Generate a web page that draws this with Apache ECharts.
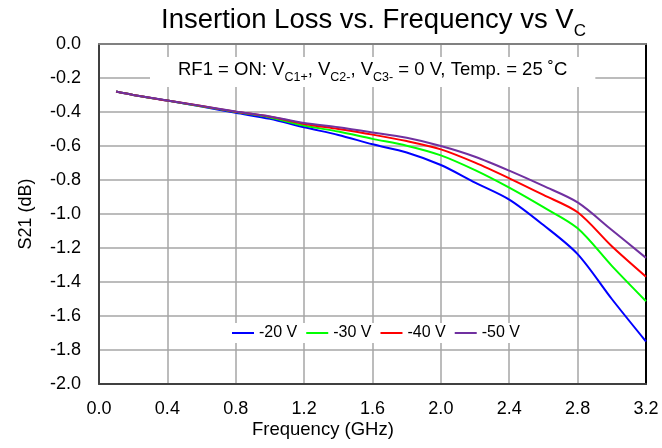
<!DOCTYPE html>
<html>
<head>
<meta charset="utf-8">
<script src="https://cdn.jsdelivr.net/npm/echarts@6/dist/echarts.min.js"></script>
<style>
html,body{margin:0;padding:0;background:#fff;}
#chart{width:662px;height:448px;}
</style>
</head>
<body>
<div id="chart"></div>
<script>
// Frequency points (GHz)
const freq = [0.1, 0.2, 0.4, 0.6, 0.8, 1.0, 1.2, 1.4, 1.6, 1.8, 2.0, 2.2, 2.4, 2.6, 2.8, 3.0, 3.2];
// S21 (dB) per control voltage
const s21_m20 = [-0.28, -0.30, -0.333, -0.368, -0.405, -0.44, -0.49, -0.535, -0.59, -0.638, -0.712, -0.815, -0.915, -1.065, -1.236, -1.50, -1.75];
const s21_m30 = [-0.28, -0.30, -0.333, -0.366, -0.400, -0.432, -0.48, -0.515, -0.558, -0.598, -0.655, -0.742, -0.845, -0.96, -1.084, -1.305, -1.513];
const s21_m40 = [-0.28, -0.30, -0.333, -0.365, -0.398, -0.428, -0.47, -0.50, -0.533, -0.571, -0.62, -0.698, -0.79, -0.888, -0.99, -1.19, -1.369];
const s21_m50 = [-0.28, -0.30, -0.332, -0.364, -0.397, -0.426, -0.465, -0.49, -0.52, -0.552, -0.60, -0.663, -0.745, -0.835, -0.932, -1.094, -1.258];
const seriesNames = ['-20 V', '-30 V', '-40 V', '-50 V'];
const seriesValues = [s21_m20, s21_m30, s21_m40, s21_m50];
const seriesColors = ['#0000FF', '#00FF00', '#FF0000', '#7030A0'];

const FONT = '"Liberation Sans", Arial, sans-serif';
const chart = echarts.init(document.getElementById('chart'));

const series = seriesNames.map((name, i) => ({
  name: name,
  type: 'line',
  data: freq.map((f, k) => [f, seriesValues[i][k]]),
  showSymbol: false,
  symbol: 'none',
  smooth: 0.3,
  lineStyle: { color: seriesColors[i], width: 2 },
  itemStyle: { color: seriesColors[i] },
  z: 3 + i,
  animation: false
}));

chart.setOption({
  animation: false,
  backgroundColor: '#fff',
  textStyle: { fontFamily: FONT },
  title: [
    {
      text: 'Insertion Loss vs. Frequency vs V{sub|C}',
      left: 161, top: 6, padding: 0,
      textStyle: {
        fontFamily: FONT, fontSize: 27.5, fontWeight: 'normal', color: '#000',
        rich: {
          sub: { fontFamily: FONT, fontSize: 17, color: '#000', verticalAlign: 'bottom', padding: [0, 0, -6, 0] }
        }
      }
    },
    {
      text: 'RF1 = ON: V{sub|C1+}, V{sub|C2-}, V{sub|C3-} = 0 V, Temp. = 25 ˚C',
      left: 150, top: 57,
      backgroundColor: '#fff',
      padding: [3, 28, 3, 28],
      textStyle: {
        fontFamily: FONT, fontSize: 18.5, fontWeight: 'normal', color: '#000',
        rich: {
          sub: { fontFamily: FONT, fontSize: 12.5, color: '#000', verticalAlign: 'bottom', padding: [0, 0, -5, 0] }
        }
      }
    },
    {
      text: 'Frequency (GHz)',
      left: 252, top: 420, padding: 0,
      textStyle: { fontFamily: FONT, fontSize: 18.5, fontWeight: 'normal', color: '#000' }
    }
  ],
  legend: {
    data: seriesNames,
    left: 228, top: 323,
    orient: 'horizontal',
    backgroundColor: '#fff',
    padding: [2, 4, 2, 4],
    itemGap: 9,
    itemWidth: 22,
    itemHeight: 2,
    icon: 'rect',
    textStyle: { fontFamily: FONT, fontSize: 16, color: '#000' }
  },
  grid: { left: 99, right: 16, top: 44, bottom: 64, containLabel: false },
  xAxis: [
    {
      type: 'value', min: 0, max: 3.2, interval: 0.4, position: 'bottom',
      axisLine: { show: true, onZero: false, lineStyle: { color: '#404040', width: 2 } },
      axisTick: { show: false },
      splitLine: { show: true, lineStyle: { color: '#A6A6A6', width: 1.5 } },
      axisLabel: { fontFamily: FONT, fontSize: 18, color: '#000', margin: 16, formatter: v => v.toFixed(1) }
    },
    {
      type: 'value', min: 0, max: 3.2, interval: 0.4, position: 'top',
      axisLine: { show: true, onZero: false, lineStyle: { color: '#808080', width: 2 } },
      axisTick: { show: false }, axisLabel: { show: false }, splitLine: { show: false }
    }
  ],
  yAxis: [
    {
      type: 'value', min: -2, max: 0, interval: 0.2, position: 'left',
      name: 'S21 (dB)', nameLocation: 'middle', nameGap: 64, nameRotate: 90,
      nameTextStyle: { fontFamily: FONT, fontSize: 18, color: '#000' },
      axisLine: { show: true, onZero: false, lineStyle: { color: '#404040', width: 2 } },
      axisTick: { show: false },
      splitLine: { show: true, lineStyle: { color: '#A6A6A6', width: 1.5 } },
      axisLabel: { fontFamily: FONT, fontSize: 18, color: '#000', margin: 18, formatter: v => v.toFixed(1) }
    },
    {
      type: 'value', min: -2, max: 0, interval: 0.2, position: 'right',
      axisLine: { show: true, onZero: false, lineStyle: { color: '#000', width: 2 } },
      axisTick: { show: false }, axisLabel: { show: false }, splitLine: { show: false }
    }
  ],
  series: series
});
</script>
</body>
</html>
